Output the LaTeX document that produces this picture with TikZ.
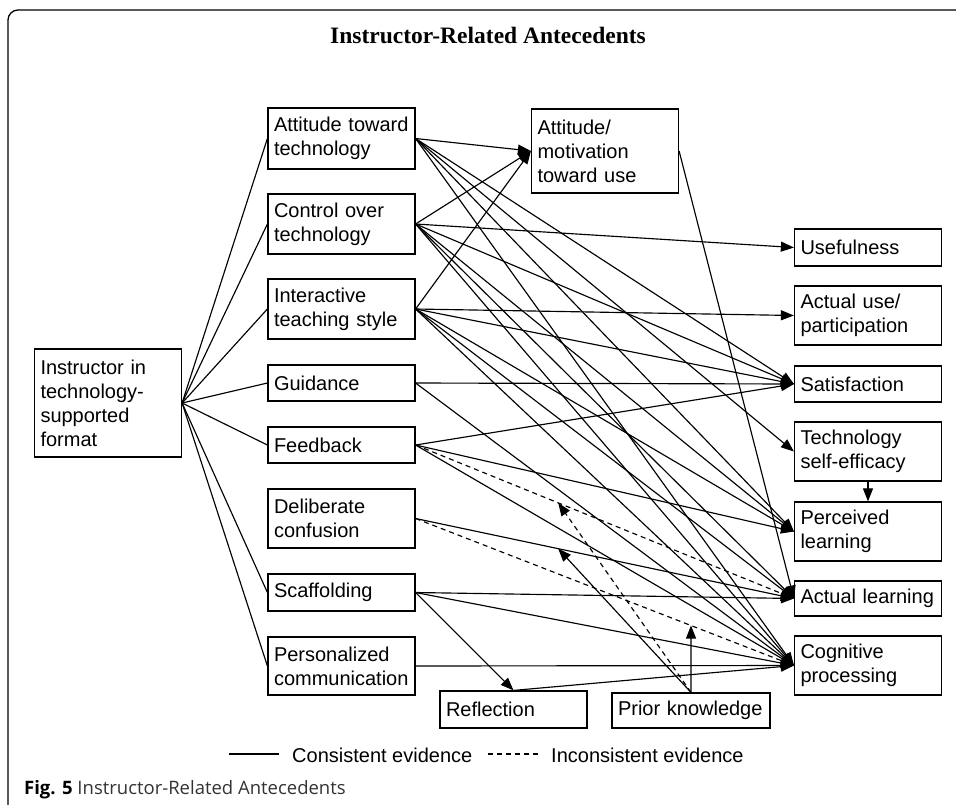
\documentclass[tikz,border=0pt]{standalone}
\usepackage{fontspec}
\setmainfont{Liberation Sans}
\newfontfamily\titlefont{Liberation Serif}
\newfontfamily\capfont{Open Sans}
\usetikzlibrary{arrows.meta,calc}

\begin{document}
\begin{tikzpicture}[x=1pt,y=-1pt,
  box/.style={draw, line width=1.2pt, inner sep=0pt, align=left,
    font=\fontsize{20}{24}\selectfont, text width=135pt, minimum width=147pt},
  link/.style={line width=1.15pt},
  arr/.style={line width=1.15pt, -{Triangle[length=13pt,width=10pt]}},
  incons/.style={dash pattern=on 5pt off 4pt}]
\useasboundingbox (0,0) rectangle (956,804);

% outer frame
\draw[line width=1.3pt, rounded corners=10pt] (8,810) -- (8,10) -- (960,10);

\node[font=\titlefont\bfseries\fontsize{23.5}{28}\selectfont] (title) at (488,35) {Instructor-Related Antecedents};

% antecedent boxes
\node[box, minimum height=108pt] (inst) at (108,403) {Instructor in\\technology-\\supported\\format};
\node[box, minimum height=61pt] (att) at (341.5,138.5) {Attitude toward\\technology};
\node[box, minimum height=60pt] (ctl) at (341.5,224) {Control over\\technology};
\node[box, minimum height=60pt] (int) at (341.5,309) {Interactive\\teaching style};
\node[box, minimum height=36pt] (gui) at (341.5,383) {Guidance};
\node[box, minimum height=36pt] (fb) at (341.5,445) {Feedback};
\node[box, minimum height=59pt] (dc) at (341.5,518.5) {Deliberate\\confusion};
\node[box, minimum height=37pt] (sca) at (341.5,592.5) {Scaffolding};
\node[box, minimum height=58pt] (pc) at (341.5,666) {Personalized\\communication};

% mediators
\node[box, minimum height=84pt] (am) at (605,151) {Attitude/\\motivation\\toward use};
\node[box, minimum height=37pt] (refl) at (513.5,709.5) {Reflection};
\node[box, minimum height=35pt, text width=146pt, minimum width=158pt] (pk) at (691,710.5) {Prior knowledge};

% outcomes
\node[box, minimum height=37pt] (use) at (868,247.5) {Usefulness};
\node[box, minimum height=59pt] (au) at (868,315.5) {Actual use/\\participation};
\node[box, minimum height=36pt] (sat) at (868,384) {Satisfaction};
\node[box, minimum height=59pt] (tse) at (868,451.5) {Technology\\self-efficacy};
\node[box, minimum height=59pt] (pl) at (868,531.5) {Perceived\\learning};
\node[box, minimum height=35pt] (al) at (868,598.5) {Actual learning};
\node[box, minimum height=59pt] (cp) at (868,665.5) {Cognitive\\processing};

% instructor fan
\foreach \t in {att,ctl,int,gui,fb,sca,pc}
  \draw[link] (inst.east) -- (\t.west);

% attitude toward technology
\foreach \t in {am,sat,tse,pl,cp}
  \draw[arr] (att.east) -- (\t.west);
% control over technology
\foreach \t in {am,use,sat,pl,al,cp}
  \draw[arr] (ctl.east) -- (\t.west);
% interactive teaching style
\foreach \t in {am,au,sat,pl,al,cp}
  \draw[arr] (int.east) -- (\t.west);
% guidance
\foreach \t in {sat,cp}
  \draw[arr] (gui.east) -- (\t.west);
% feedback
\foreach \t in {sat,pl,cp}
  \draw[arr] (fb.east) -- (\t.west);
\draw[arr,incons] (fb.east) -- (al.west);
% deliberate confusion
\draw[arr] (dc.east) -- (al.west);
\draw[arr,incons] (dc.east) -- (cp.west);
% scaffolding
\draw[arr] (sca.east) -- (refl.north);
\foreach \t in {al,cp}
  \draw[arr] (sca.east) -- (\t.west);
% personalized communication and reflection
\draw[arr] (pc.east) -- (cp.west);
\draw[arr] (refl.north) -- (cp.west);
% mediators
\draw[arr] (am.east) -- (al.west);
\draw[arr] (tse.south) -- (pl.north);

% prior knowledge moderates three paths
\coordinate (m1) at ($(fb.east)!0.377!(al.west)$);
\coordinate (m2) at ($(dc.east)!0.377!(al.west)$);
\coordinate (m3) at ($(dc.east)!0.728!(cp.west)$);
\draw[arr,incons] (pk.north) -- (m1);
\draw[arr] (pk.north) -- (m2);
\draw[arr] (pk.north) -- (m3);

% legend
\coordinate (l1a) at (229,754);
\coordinate (l1b) at (279,754);
\coordinate (l2a) at (488,754);
\coordinate (l2b) at (538,754);
\draw[link] (l1a) -- (l1b);
\draw[link,incons] (l2a) -- (l2b);
\node[anchor=west, inner sep=0pt, font=\fontsize{20}{24}\selectfont] (lg1) at (292,755) {Consistent evidence};
\node[anchor=west, inner sep=0pt, font=\fontsize{20}{24}\selectfont] (lg2) at (551,755) {Inconsistent evidence};

% caption
\node[anchor=base west, inner sep=0pt, font=\capfont\fontsize{18.5}{22}\selectfont] (cap) at (24,794)
  {\textbf{Fig. 5} {\color{black!80}Instructor-Related Antecedents}};
\end{tikzpicture}
\end{document}
